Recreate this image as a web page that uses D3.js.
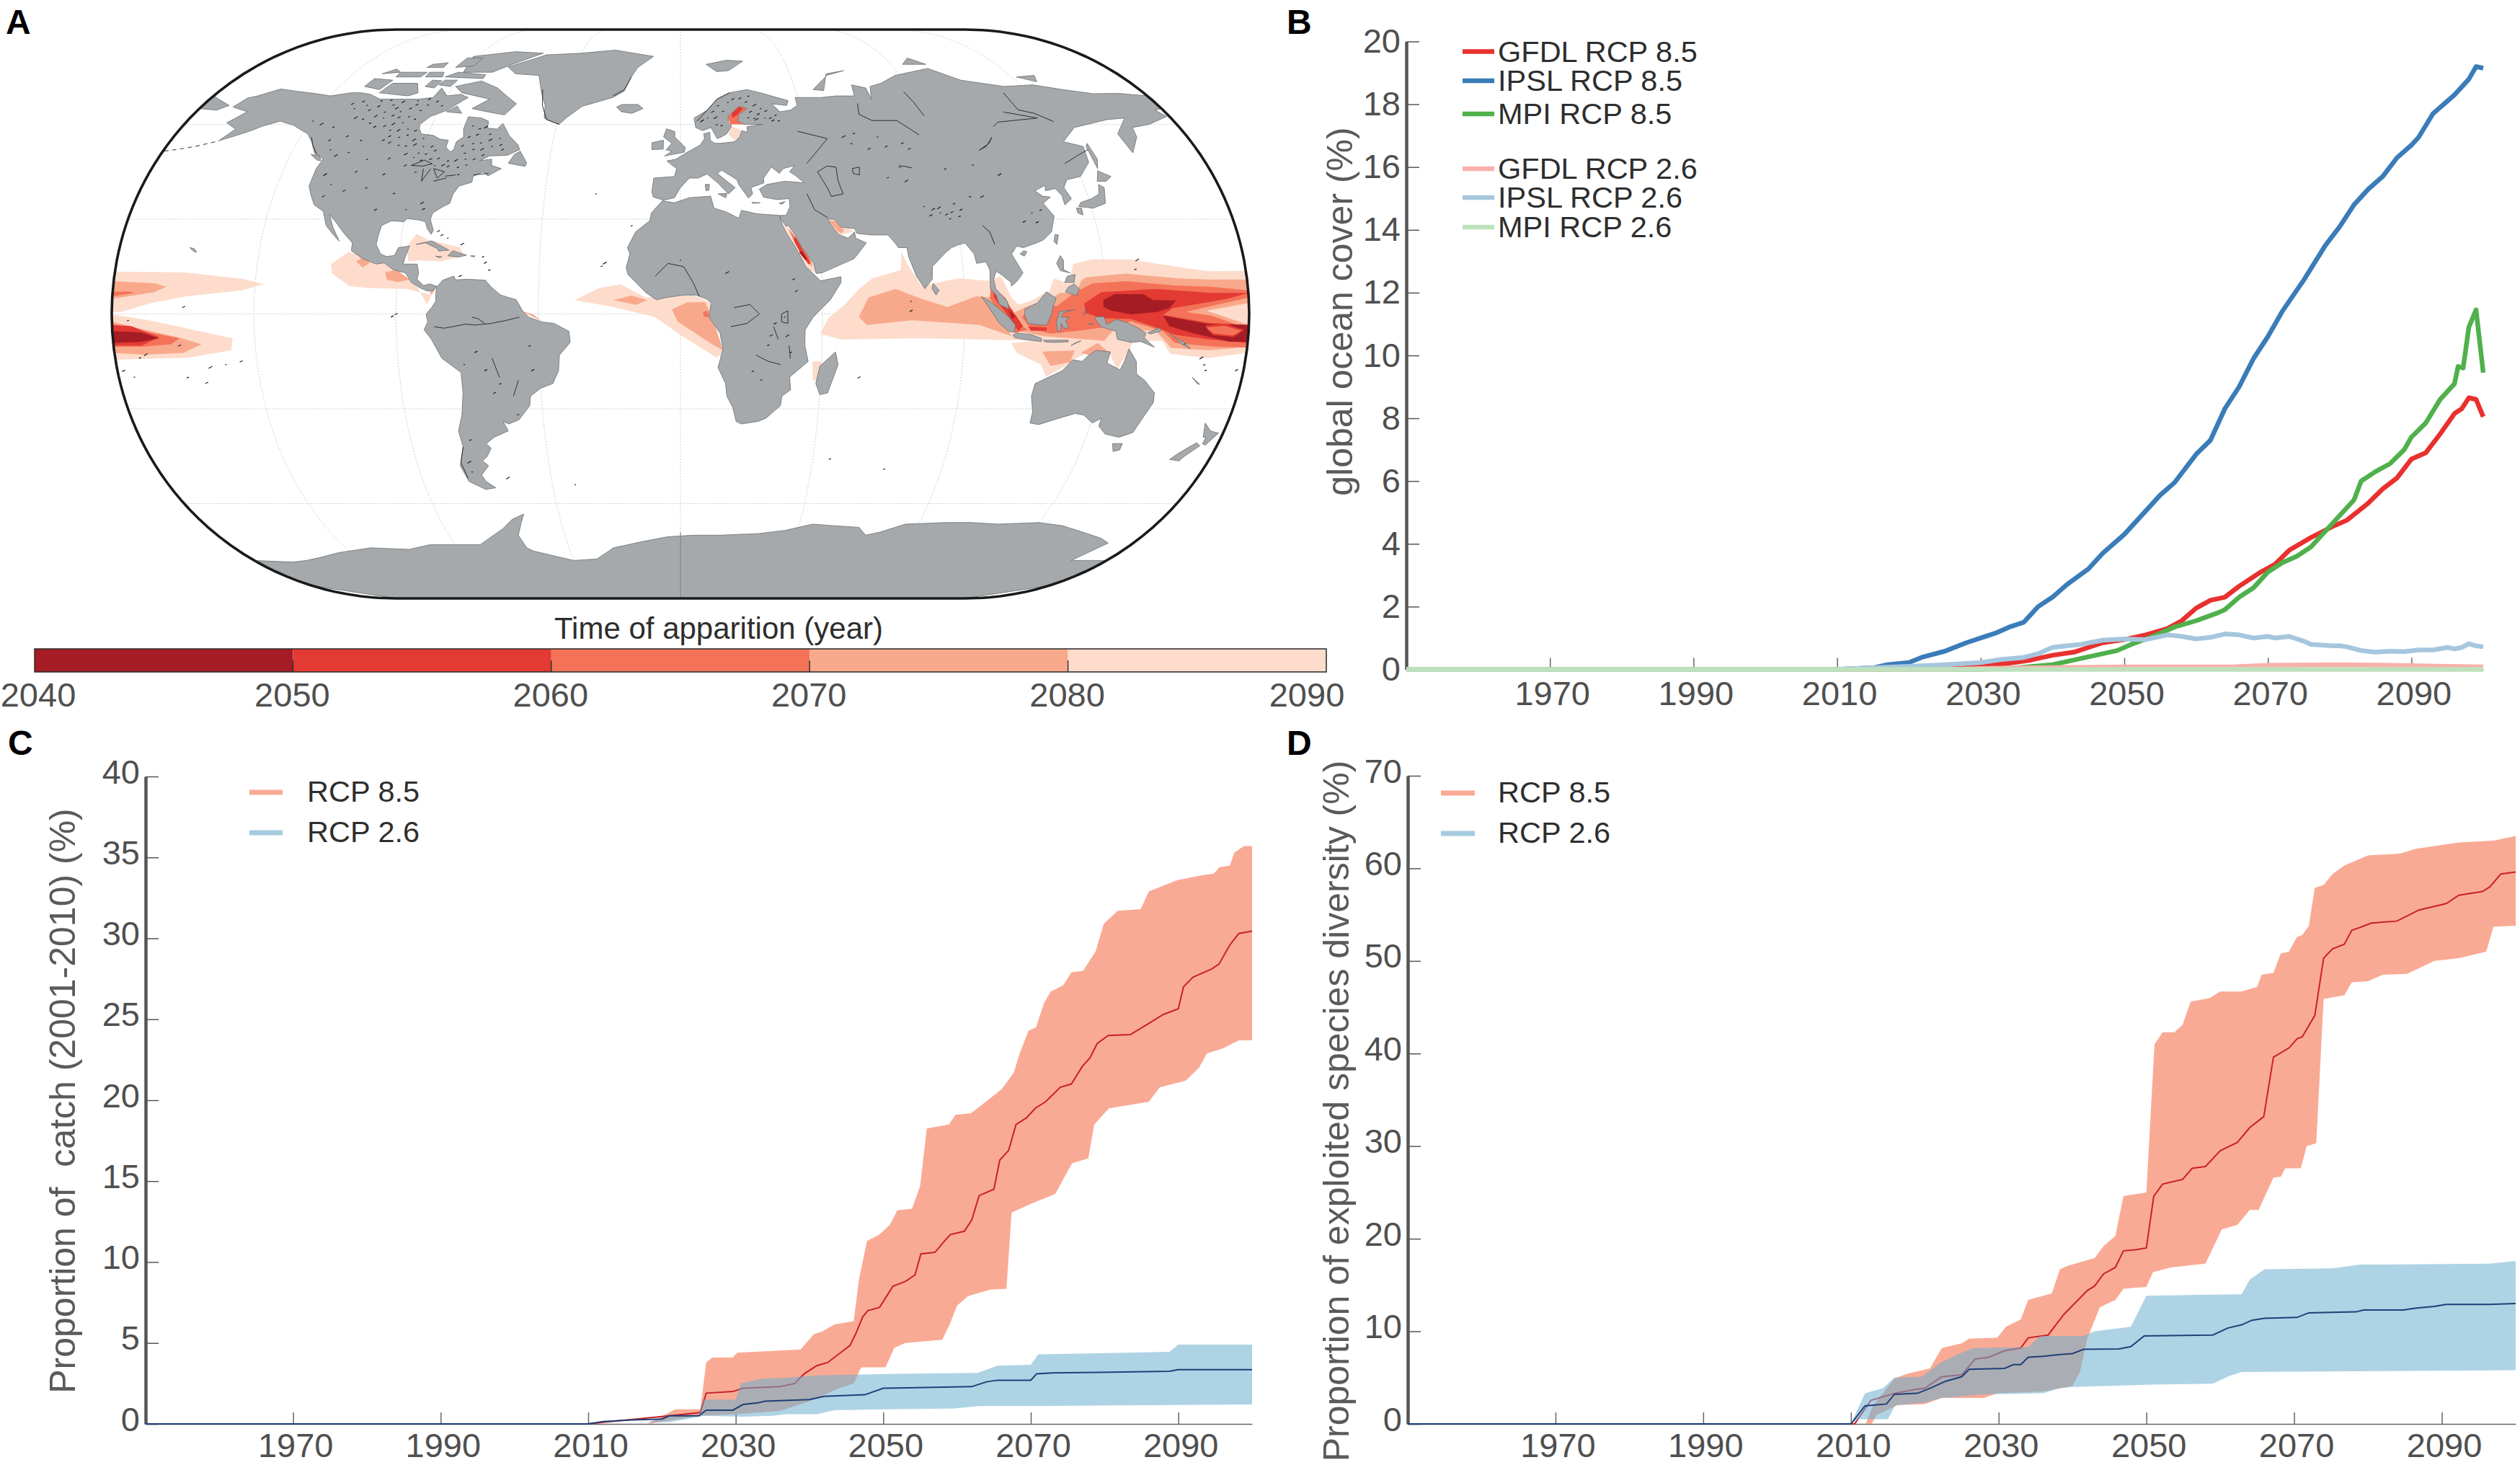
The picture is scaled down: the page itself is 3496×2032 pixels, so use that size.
<!DOCTYPE html>
<html lang="en">
<head>
<meta charset="UTF-8">
<title>Time of apparition</title>
<script src="https://d3js.org/d3.v7.min.js"></script>
<style>
  html, body { margin: 0; padding: 0; background: #fff; }
  svg { display: block; }
  text { font-family: "Liberation Sans", Arial, sans-serif; white-space: pre; }
</style>
</head>
<body>
<div id="chart"></div>
<script>
// ---------- panel A: land, lon/lat ----------
const northAmerica = [[-168,65.5],[-166,68.3],[-163,69],[-157,71.2],[-150,70.5],[-141,69.7],[-135,69],[-128,70],[-124,70],[-120,69.5],[-115,68],[-108,68],[-100,68],[-95,68.5],[-94,71.5],[-90,69],[-85,69.5],[-81.5,68.5],[-85,66],[-87,64.5],[-92,62.5],[-94.5,60],[-94,58.7],[-92.5,57],[-88,56.5],[-85,55.3],[-82,55],[-82,52.8],[-80,51.3],[-79,52],[-79,54.5],[-77,56],[-78,58.5],[-78,62.4],[-73,62],[-70,61],[-69.5,58.8],[-66,58.5],[-64.5,60.3],[-61,56.5],[-57,53.5],[-56,52],[-60,50.2],[-66,50],[-69,48.5],[-65,49],[-64.5,47],[-61,46],[-65,43.7],[-67,45],[-70,43.5],[-70,41.7],[-74,40.5],[-75.5,38],[-76,35],[-78,34],[-81,32],[-81.5,30],[-80,26.5],[-80.5,25.2],[-82,27],[-83,29.2],[-85,29.7],[-89,30.2],[-90,29.2],[-94,29.5],[-97,28],[-97.5,25],[-97.8,22],[-96,19],[-94,18.2],[-91.5,18.5],[-90.5,21],[-87,21.5],[-88,18],[-88.5,15.8],[-84,15.8],[-83.3,13],[-83.7,11],[-81.5,9],[-79.5,9.5],[-77.3,8.7],[-78.2,7.5],[-80.3,7.3],[-82.5,8.2],[-85.5,10],[-87.5,13],[-91.5,14],[-94.5,16.2],[-97,15.8],[-101.5,17.5],[-105.5,20],[-105.5,22.5],[-109,25.8],[-112.5,29.5],[-114.7,31.5],[-112.7,27.5],[-109.8,23],[-112,25],[-115,28],[-117,32.5],[-120.5,34.5],[-122.5,37.5],[-124.2,40.5],[-124,46],[-123,49],[-127,51],[-130,54.5],[-133,57],[-137,58.5],[-140,59.7],[-146,61],[-151,59.5],[-154,58],[-158,56.5],[-163,54.8],[-160,58.5],[-165,60.5],[-161,64]];
const southAmerica = [[-77.3,8.5],[-75.5,10.7],[-72,12],[-71.5,10.8],[-68,11],[-62,10.7],[-60,8.5],[-57,6],[-52,4.5],[-50,1],[-48,-1],[-44,-2.5],[-40,-3],[-35.3,-5.5],[-35,-9],[-38.5,-13],[-39,-18],[-41,-22],[-45,-23.5],[-48.5,-26],[-49,-29],[-53,-33.5],[-56.5,-34.8],[-58.3,-34],[-57,-37],[-62,-39],[-65,-41],[-63.7,-42.5],[-65.5,-45],[-67.5,-46.5],[-65.8,-48],[-69,-51],[-68,-53],[-65.2,-55],[-69,-55.5],[-74,-53],[-75.5,-48],[-73,-42],[-73.5,-37],[-71.5,-32],[-70.2,-25],[-70.2,-18.5],[-76,-14],[-79,-8],[-81.2,-5],[-80,-2.5],[-80.5,0],[-78.8,2],[-77.5,4],[-77.5,7]];
const africa = [[-6,35.8],[-2,35.2],[3,36.8],[10,37.3],[11,33.5],[15,32.3],[19,30.3],[20,32.8],[25,31.7],[32.3,31.2],[32.6,29.7],[34,26],[37,21],[38.5,18],[40,15],[43,12],[44.5,10.5],[51,11.8],[51,10],[47.5,4.5],[42,-1],[39.5,-5],[39.5,-10],[40.7,-15],[35,-20],[35.5,-24],[32.8,-26],[32.5,-29],[28,-33],[25.5,-34],[20,-34.8],[18.3,-34],[17,-29.5],[15,-26],[14.5,-22],[12,-17],[13.5,-11],[12.5,-6],[9,-1],[9.7,3.5],[8.5,4.6],[5,6],[1,6],[-4.5,5.2],[-7.7,4.5],[-11,6.8],[-13.2,9],[-16.7,12.5],[-17.3,14.7],[-16.2,19],[-17,21],[-14.5,26],[-10,29.5],[-9.5,32]];
const eurasia = [[-9,37],[-9.5,38.7],[-9,43],[-2,43.5],[-1.3,46],[-4.7,48.4],[-1.5,49],[2,51],[4,52],[7,53.5],[8.5,55.5],[8.3,57],[10.5,57.5],[10.5,55],[12,54],[14,54],[19,54.5],[21,56],[22,58],[24,57.5],[24,59.3],[30,60],[23,60],[21,61],[21.5,63],[25,65],[22,65.8],[17.5,62.5],[17.5,60.5],[18.5,59.5],[16.5,57],[14.5,56],[13,55.5],[11,59],[8,58],[5.5,59],[5,62],[10,64.5],[14,68],[19,70],[26,71],[31,70],[41,67.5],[40,66],[34.5,66.5],[37,64],[41,64.5],[44,66],[44,68.5],[54,68.5],[60,69],[67,69],[68,72.5],[73,71.5],[73,68],[75,72],[80,73],[88,75.5],[104,77.7],[113,74],[128,72],[140,72.5],[150,71],[160,69.7],[170,69.8],[180,69],[180,65],[177,64.5],[179,62.5],[170,60],[163,59],[162,56],[157,51],[156,57],[163,62],[156,61.5],[142,59],[135,54.5],[141,53],[140,48],[135,43.5],[130,42.5],[128,40],[129.3,36.5],[126.5,34.5],[126.5,37.5],[125,39.7],[121.5,39],[122,40.7],[118,39],[120,37.3],[122.5,37],[119.5,35],[122,31],[120,26],[117,23.5],[114,22.3],[110,21],[108,21.5],[106,19],[109,13],[107,10.5],[105,8.8],[105,10],[102,12.5],[100.5,13.5],[99.5,11],[100,8],[103.5,4],[104,1.5],[101,3],[100,6],[98.3,8],[98.5,14],[97.5,16.5],[94.5,16],[94,19],[91.5,22.5],[89,21.8],[87,21],[85,19.5],[80.3,15],[80,11],[77.5,8],[75,12],[73,18],[72.7,21],[70,21],[69,22.5],[67,25],[61.5,25],[57,25.5],[56.5,27],[52,27.5],[50,30],[48,30],[50,26.5],[51.5,25],[54,24],[56.3,26],[56.5,24],[59.8,22.5],[55.5,17.5],[52,16],[45,13],[43.2,12.8],[42.5,16],[39,21],[37,25],[35,28],[34.2,27.8],[32.7,29.9],[32.5,31.2],[34.5,31.2],[36,34],[36,36.5],[32,36.2],[30,36.5],[27.5,37],[26.3,39.5],[29,41],[35,42],[41.5,41.5],[39,43.7],[37,45],[39,47],[35,46],[33.5,44.5],[31,46.5],[28,43],[28,41.5],[26,40.8],[23.5,40],[24,38],[22.5,36.7],[19.5,41],[19,42.5],[14,45.5],[12.5,44.5],[16,41.7],[18.3,40],[16,38],[12.5,41.5],[9,44.3],[6,43],[3,43],[0,40],[-2,36.8],[-5.5,36]];
const australia = [[114,-22],[113.5,-26],[115,-31],[115,-34.5],[118,-35],[124,-33],[129,-31.5],[132,-32],[135.5,-34.5],[138,-33],[138,-35.5],[141,-38],[146,-39],[150,-37.5],[151.5,-33],[153.5,-28],[153,-25],[149,-21],[146,-19],[145.3,-15],[142.5,-11],[141.5,-15],[140.5,-17.7],[136,-15.5],[136.7,-12],[132,-11.5],[130,-13],[128,-15],[125,-14.5],[122,-18],[117,-20.5]];
const antarctica = [[-180,-78],[-165,-78.5],[-158,-78],[-150,-77],[-140,-75.5],[-125,-74],[-110,-74.5],[-100,-73],[-90,-73],[-80,-73],[-75,-71],[-68,-68],[-63,-65],[-58,-63.3],[-60,-66],[-63,-70],[-62,-74],[-60,-75],[-45,-78],[-35,-77.5],[-27,-74],[-15,-72],[-5,-70.5],[5,-70],[15,-70],[30,-69.5],[40,-68.5],[50,-66.5],[58,-67],[68,-67.5],[72,-70],[77,-69],[85,-66.5],[100,-66],[110,-66],[120,-66.5],[135,-66],[145,-67],[155,-69],[165,-71],[170,-72.5],[165,-78],[180,-78],[180,-82],[180,-86],[180,-90],[-180,-90],[-180,-86],[-180,-82]];
const islands = [
  [[-73,78.2],[-68,76],[-58,75.5],[-54,70],[-51,66],[-50,62],[-44,60],[-42,62],[-37,65.7],[-26,68.5],[-22,70.5],[-20,75],[-18,78],[-12,81.5],[-30,83.5],[-45,82.5],[-60,82],[-65,80.5]],
  [[-80,73.7],[-72,71.5],[-67,69],[-62,66.5],[-65,63],[-72,64],[-78,65],[-73,68],[-85,70],[-89,72]],
  [[-117,70],[-105,69],[-102,70],[-105,73],[-115,73]],
  [[-125,72],[-118,71],[-116,74],[-124,74.5]],
  [[-90,76.5],[-78,76.5],[-72,79],[-62,82.5],[-75,83],[-92,81.5]],
  [[-96,75],[-80,74.5],[-80,75.7],[-92,76.5]],
  [[-116,75],[-106,75],[-105,76.5],[-116,76.5]],
  [[-87,64],[-81,63.5],[-84,65.8]],
  [[-101,72],[-97,71.5],[-96,73.8],[-100,74]],
  [[-96,72.5],[-91,72],[-90,74],[-95,74]],
  [[-104,75],[-97,75],[-98,76.5],[-104,76.5]],
  [[-123,76],[-116,76.5],[-119,77.5]],
  [[-107,78],[-100,78],[-100,79.5],[-106,79]],
  [[-95,78],[-88,78.5],[-87,81],[-94,81]],
  [[-59,47.7],[-53,46.7],[-52.7,47.8],[-55.7,51.5],[-57.5,50.5]],
  [[-128,50.5],[-125,48.7],[-123.5,48.5],[-125,50.2]],
  [[-85,22],[-80,23.1],[-74.2,20.2],[-77.5,19.9],[-78,20.7],[-82,22.5]],
  [[-74.4,18.4],[-73,20],[-68.4,18.6],[-71,18]],
  [[-78.3,18.3],[-76.3,18.1],[-77,17.8]],
  [[-67.2,18.4],[-65.7,18.4],[-66,18]],
  [[-24,65.5],[-22,64],[-18,63.5],[-14,65],[-16,66.3],[-22,66.3]],
  [[-5.5,50],[1.3,51.2],[1.7,52.7],[-2,56],[-2,57.7],[-5,58.6],[-6,56],[-3,54],[-5,52],[-3,51.4]],
  [[-10,52],[-6,52.2],[-6,55],[-10,54.2]],
  [[8.3,41],[9.7,41],[9.5,39.2],[8.5,39]],
  [[12.5,38],[15.5,38.2],[15,36.8]],
  [[23.5,35.3],[26.3,35.2],[24,35]],
  [[32.5,35],[34.5,35.6],[33.5,34.7]],
  [[11,79],[20,80.3],[27,80],[20,77],[15,76.7]],
  [[52,71],[56,70.7],[60,76],[68,77],[60,75.5]],
  [[95,79],[105,79],[100,81]],
  [[137,75],[145,75.5],[143,73.5]],
  [[142,46],[143.5,49],[143,54],[142,53]],
  [[130.9,34],[135.5,33.5],[140,35],[141.5,40],[140,41],[139,38],[136,36.5],[132,35.3]],
  [[140,42],[143,42],[145.3,43.5],[141.7,45.3]],
  [[130,32],[131.5,31.3],[131.7,33.5],[130,33.5]],
  [[120.2,23],[121,22],[122,25],[121,25.2]],
  [[108.7,19],[110,18.3],[111,19.7],[110,20]],
  [[79.8,8],[81,6],[82,7.5],[80.2,9.7]],
  [[120,16],[121.5,18.5],[122.3,17],[122,14],[124,13],[121,13.7]],
  [[122,7],[125.5,5.8],[126.5,8],[125,9.5],[123,8.5]],
  [[122,10],[125,10],[125.5,12.5],[123,12]],
  [[109,1.5],[111,2.5],[113,3.5],[116,7],[119,5],[118,2.5],[117.5,0],[116,-3.5],[114,-3.5],[110,-3],[109,-0.5]],
  [[95.3,5.5],[98,4],[100.5,2],[104,-1],[106,-3.5],[105.8,-5.8],[104,-5.5],[101,-3],[99,0],[97,3]],
  [[105.3,-6.8],[106.5,-6],[111,-6.5],[114.5,-7.7],[114.5,-8.7],[110,-8.2],[106,-7.5]],
  [[119.5,-5.5],[119,-2.5],[120,0.8],[124,1.2],[125,1.5],[121,0.3],[120.5,-1],[123,-1],[122,-2],[123,-4.5],[121.5,-4.5],[120.5,-3],[120.5,-5.5]],
  [[131,-1],[134,-0.8],[135,-3.3],[138,-1.7],[141,-2.6],[145,-4.5],[147.5,-6],[147,-7.5],[150.5,-10.5],[146,-8.7],[143,-9],[138.5,-8],[138,-5.5],[133,-4],[132,-2.5]],
  [[148,-6],[152,-4.3],[152,-5.5],[149,-6.3]],
  [[115,-8.3],[119,-8.3],[123,-8.3],[123,-8.8],[119,-9],[116,-8.9]],
  [[124,-10],[127,-8.5],[125,-9.3]],
  [[127.5,-0.5],[128.5,2],[128,0]],
  [[129,-3],[130.8,-3.2],[129.5,-3.4]],
  [[155,-6],[157,-7.5],[160,-9],[162,-11],[159,-9.5]],
  [[144.7,-41],[148,-41],[148,-43],[146,-43.5]],
  [[172.7,-34.5],[175.5,-37],[178.5,-37.7],[176,-41.5],[174.8,-41],[175,-39],[174,-39]],
  [[172.7,-40.7],[174.3,-41.7],[171,-45],[170,-46.5],[166.5,-46],[168.5,-44]],
  [[49.3,-12],[50.3,-16],[47.5,-25],[45,-25.5],[43.5,-22],[44.5,-16.5]],
  [[164,-20],[167,-22.3],[166,-22]],
  [[-180,69],[-175,67.5],[-170,66],[-173,64.5],[-180,65]],
  [[-157.5,21],[-155.5,19.5],[-155,19.7],[-156,20.7]]
];
const landShapes = [northAmerica, southAmerica, africa, eurasia, australia, antarctica, ...islands];

// lakes, rivers and fjord coasts, thin dark strokes
const waterLines = [
  [[46.5,45],[50,46.8],[53,46.5],[53,42],[54,38],[50,37.2],[49,40],[47.5,43],[46.5,45]],
  [[58.5,46],[61,46.5],[60.5,44],[58.5,44.5],[58.5,46]],
  [[104,51.8],[107,53],[110.5,55.9],[108.5,54],[104,51.8]],
  [[74.4,46.4],[76,46.8],[79,46.2]],
  [[-92,47],[-88,48.7],[-85,47.5],[-88,46.8],[-92,47]],[[-87.5,46],[-87,42],[-86,44],[-85,46]],[[-84,46],[-80,45],[-82,43],[-84,46]],[[-83,42],[-79,43],[-79,42.8]],[[-79.5,43.6],[-76,44]],
  [[-131,56],[-129,53.5],[-126,50.5]],[[-70,44],[-65,44.5]],
  [[-54,71],[-52,66],[-49,61.5],[-44,60]],[[-26,69],[-22,71],[-20,75]],[[6,61],[10,64.5],[14,68],[19,70]],[[-74,-52],[-75,-47],[-73,-42]],
  [[-78,-4],[-75,-4.5],[-72,-4],[-68,-3.2],[-65,-3.5],[-60,-3],[-55,-2],[-51,-1]],[[-66,-1],[-64,-1.5],[-62,-3]],[[-60,-14],[-58,-20]],[[-52,-21],[-54,-26]],
  [[-8,12],[-4,16],[1,15],[4,10],[6,5.5]],[[17,2],[22,3],[25,0],[21,-3],[16,-4]],[[24,-13],[28,-15],[32,-16]],[[32,0],[34,1],[34,-3],[32,-2.5],[32,0]],[[29.5,-4],[31,-8]],[[34.5,-10],[35,-14]],
  [[87,70.3],[88.5,67],[89.8,62.7]],[[125.5,70],[126,64.6],[131,63.5],[136,60.9]],[[120,63.9],[131,62],[115.5,60.7],[113,59.3]],[[67,66.6],[66,63.2],[70,61.2],[79,61.2],[85,56.7]],[[42,57.8],[52,55.5],[46.5,50.6],[43.2,47.6]],[[131.6,47.6],[137,50],[142,52]],[[98,28],[100,26],[101,22]],[[42,38],[44,33],[48,30.5]]
];
const aleutians = [[-164,54.5],[-170,53],[-176,52],[-180,51.5]];

// tiny lakes and ocean islets, one short dash each
const lakeDashes = [[-118,66],[-116,64.5],[-113,65.5],[-110,64],[-108,66],[-106,65],[-104,64],[-101,65],[-99,66],[-97,64.5],[-95,66],[-112,62.5],[-109,62],[-106,62.8],[-103,62],[-100,62.5],[-97,61.5],[-104,60],[-101,60.5],[-107,59.5],[-110,59],[-113,60.5],[-116,61.5],[-119,62],[-122,65],[-124,66.5],[-120,67],[-114,67.5],[-110,67.5],[-105,67],[-100,67.5],[-96,68],[-92,67],[-90,66],[-104,58],[-101,58],[-98,58.5],[-95,58],[-103,56],[-100,56],[-97,56.5],[-94,55],[-91,55.5],[-105,55],[-102,54],[-99,53.5],[-96,53],[-93,53.5],[-90,53],[-87,53],[-85,51.5],[-91,51],[-88,50.5],[-95,50.5],[-92,49.5],[-86,49],[-83,49],[-80,48.5],[-89,48.5],[-77,48.5],[-74,49],[-71,49],[-68,50],[-75,51],[-72,52],[-69,52],[-66,53],[-63,53.5],[-76,53],[-73,54],[-70,54],[-67,55],[-64,55.5],[-75,56],[-72,56.5],[-68,57],[-72,58.5],[-70,59],[-75,59.5],[-62,52],[-79,46.5],[-76,46.5],[-73,47],[-81,47],[-84,47],[-94,47],[-100,49],[-108,49],[-115,51],[-119,50],[-122,52],[-124,55],[-118,56],[-113,55],[-125,59],[-130,60],[-134,61],[-110,45],[-100,44],[-90,45],[-75,44],[-120,44],[-117,41],[-112,39],[-118,37],[-105,40],[-95,38],[-85,35],[-90,33],[-100,33],[-84,33],
  [14,66],[16,64],[13,62],[18,67],[20,68],[23,68],[26,69],[25,67],[28,66],[30,65],[26,64],[29,63],[27,62],[25,62],[28,61.5],[31,62],[33,62],[34,61],[13,60],[15,59.5],[8,61],[10,62],[12,64],[32,64],[35,63],[36,61],
  [83,33],[85,32],[87,31.5],[89,32],[91,31],[88,30],[85,33.5],[80,34],[92,33],[82,31],[90,35],[96,37],[100,37],[75,47],[72,53],[66,52],[60,54],[62,57],[58,56],[70,56],[78,54],[80,52],[90,46],[100,47],[108,44],[115,32],[116,29],[112,29],[118,33],[70,43],[76,42],
  [33,-1],[30,-3],[29,-7],[35,-12],[28,-10],[15,13],[0,17],[36,11],[37,7],[23,-18],[26,-21],[34,-7],
  [-69,-16],[-65,-12],[-62,-18],[-58,-22],[-70,-40],[-72,-47],[-72,-50],[-60,-25],[-47,-18],[-48,-10],[-53,-32],
  [-150,-17],[-145,-16],[-140,-15],[-152,-22],[-158,-20],[-172,-14],[-170,-13],[-175,-20],[-178,-18],[178,-18],[167,-16],[168,-18],[166,-14],[160,-9.5],[-159,-10],[-157,2],[-175,-2],[145,14],[146,17],[73,4],[73,1],[57.5,-20.3],[-16,28],[-25,15],[-24,16],[-28,38],[-90,0],[-91,-1],[70,-49],[51,-46],[-60,-52],[-37,-54],[-70,12],[-62,16],[-61,14],[-63,18],[-70,22],[-75,24],[-77,25],[-78,26]];

// ---------- panel A: apparition zones, oldest last so it lands on top ----------
const zoneLight = [
  [[44.3,-6.2],[46.8,-1.3],[51.9,2.9],[57,8.2],[61,11.3],[70.2,13.9],[70.8,19.6],[72.3,15.8],[76.4,9],[80.4,9.7],[88.6,11.3],[97.8,10.5],[101.8,12],[104.9,5.2],[107,2.9],[110.5,4],[117.1,7.5],[118.6,11.3],[123.2,9.7],[125.3,15.8],[131.4,17.3],[143.6,17.3],[157.9,15],[168.1,13.5],[180,13.7],[180,7],[180,0],[180,-6],[180,-12.3],[168,-14],[155.8,-12.6],[152.8,-8.5],[143.6,-8.5],[142.6,-11.5],[139.5,-17.6],[136.5,-12.3],[131.4,-11.1],[125.3,-14.5],[122.2,-16.8],[117.1,-19.9],[115,-16],[107,-12.3],[104.9,-9.2],[113,-8.5],[96.7,-8.1],[76.4,-7.7],[50.9,-8.1]],
  [[-180,13.4],[-158,13.2],[-139.1,11.1],[-132.2,9.4],[-139.1,7.5],[-156.6,5.6],[-168.2,3.3],[-177,0.6],[-180,0.6],[-180,7]],
  [[-180,-0.1],[-168.2,-2],[-142,-7.7],[-142.8,-11.5],[-156.6,-13.8],[-180,-14.5],[-180,-7]],
  [[-111.5,15.8],[-106.4,19.6],[-92.6,15.8],[-83.8,9],[-80.2,2.9],[-78.8,6],[-86.8,7.9],[-98.4,8.2],[-105,8.8],[-110.8,12.8]],
  [[-85.3,25.3],[-80.9,23.4],[-70.8,21.1],[-69.3,18.5],[-76.6,16.6],[-83.1,17],[-86.8,16.6],[-88,21.1]],
  [[-33.6,4.4],[-25.7,8.2],[-19,9.4],[-11,5.2],[-3.8,5.6],[3.6,6.3],[9.3,3.7],[13.6,-12.3],[11.5,-13.8],[0.6,-7],[-8.2,-0.9],[-21.3,2.2]],
  [[42,-15],[45,-15],[44.5,-21],[42.5,-21]],
  [[34,28.5],[33.5,27],[37,21],[38.5,18],[41,14],[43.3,12.8],[42.5,16],[39.5,21],[37,25]],
  [[17,57],[19,55],[21,56],[22,58],[18.5,59.5]],
  [[48,30],[50,26.5],[52,25],[56,26.2],[54,27.5],[50,30]]
];
const zoneMid = [
  [[56.5,-0.9],[59.5,5.2],[68.2,7.9],[76.4,4.8],[84.5,2.2],[93.7,5.6],[99.3,5.2],[101.8,-1.6],[104.9,-7],[94.7,-3.5],[73.3,-2],[59,-3.5]],
  [[128.8,11.6],[141.6,12.8],[157.9,11.3],[168,10.9],[180,10.9],[180,3.5],[166.5,1],[180,-3.5],[180,-10.4],[168,-11.5],[155.8,-10.7],[150.7,-5.4],[137.5,-4.7],[134.4,-8.5],[115,-7],[107,-5.4],[105.9,0.6],[110,2.5],[118.1,5.2],[120.2,6.7],[125.3,6.7],[127.3,10.5]],
  [[115,-11.9],[125.3,-11.5],[124.3,-15.3],[118.1,-16.4]],
  [[127.3,-12.3],[132.4,-9.2],[136.5,-12.3],[133.4,-13.8]],
  [[-180,10.4],[-166.8,9.7],[-163.1,8.6],[-166.8,6.9],[-180,4.8]],
  [[-180,-2.4],[-172.6,-4.3],[-158,-7.7],[-152,-9.6],[-158,-12.3],[-171,-12.9],[-180,-12.3]],
  [[-103.5,16.6],[-101.3,18.1],[-99.1,16.2],[-101.3,14.7]],
  [[-94,13.2],[-90.4,13.9],[-86,10.9],[-89.7,10.1],[-93.3,10.9]],
  [[-80.2,8.2],[-77.3,9],[-78.8,6]],
  [[-21.3,4.4],[-15.5,5.8],[-10.4,4.4],[-14,2.9]],
  [[-2.7,1.4],[2,3.7],[7.8,3.7],[9.3,0.6],[13.6,-11.5],[10,-9.6],[-0.9,-2.4]],
  [[-50.4,1],[-43.8,-2.4],[-46.7,-0.1]],
  [[48.5,29.5],[50.5,26.5],[52,25.5],[53,26.5],[50,29.5]]
];
const zoneOrange = [
  [[119.2,2.5],[125.3,7.1],[130.9,9.7],[141.6,10.4],[156.9,9],[168.6,8.6],[180,7.5],[180,5.2],[168,2.5],[160,0.6],[168,-0.5],[180,-4.7],[180,-10.6],[170,-10.4],[156.9,-9.2],[152.8,-5.4],[142.6,-2.4],[133.4,-4.3],[125.3,-5.4],[117.1,-6.2],[111,-4.7],[108,-0.9],[113,2.9]],
  [[-180,7.1],[-174,7.1],[-173.3,6.6],[-180,5.6]],
  [[-180,-3.2],[-168.2,-5.8],[-158.8,-7.7],[-161.7,-9.6],[-171,-10.4],[-180,-10.4]],
  [[18,60],[23,60],[21,61],[21.5,63],[25,65],[22,65.8],[17.5,62.5]],
  [[7.1,0.6],[8.5,1],[9,-0.9],[7.5,-0.9]],
  [[35,27],[37,22],[39.5,18],[42,15],[41.5,17],[39,21.5],[36.5,25]],
  [[98.5,9],[103,5],[107,-3],[110,-5],[106,-6],[102,-1],[98,5]]
];
const zoneRed = [
  [[127.8,3.3],[133.4,6.9],[150.7,7.9],[168,6.7],[180,6.7],[173.2,4.8],[155.8,1.8],[152.8,-0.3],[167,-2.8],[180,-3.5],[180,-9.2],[168,-8.1],[156.9,-6.6],[151.8,-4.7],[142.6,-1.6],[133.4,-1.3],[128.3,0.3]],
  [[-180,-3.5],[-174,-3.8],[-165.3,-7.3],[-171,-10],[-180,-10]],
  [[99.3,8.2],[100.8,6],[104.9,1.4],[108.5,-3.9],[107,-5.4],[102.9,0.6],[99.3,5.2]],
  [[19,62],[21,63],[23.5,65],[22,65.5],[19,63.5]],
  [[36.5,23.5],[38.5,19],[41,15.5],[41.3,16.5],[39,20.5],[37,24.5]],
  [[110,-4],[116,-4.3],[116,-5.3],[111,-5.3]]
];
const zoneDark = [
  [[133.9,4.4],[137.5,6.3],[146.7,6.3],[149.7,4.4],[156.9,4.3],[154.8,1.8],[150.7,0.6],[146.7,0.3],[142.6,-0.1],[136.5,1],[133.9,2.2]],
  [[152.8,-0.5],[167,-3.2],[180,-3.5],[180,-8.8],[174.2,-8.8],[163,-6.2],[154.8,-3.9]],
  [[-180,-5.4],[-171,-5.8],[-165.3,-7.7],[-171,-8.8],[-180,-9.2]],
  [[103.9,1.4],[105.9,-0.9],[105,-1.5]],
  [[38,19.5],[39.8,17.2],[40.5,17.2],[39,19.8]]
];
// the small core inside the dark Pacific tongue
const coreRing = [[[166,-3.7],[172.2,-3],[178.5,-5],[175.5,-7.3],[168.6,-6.7]]];
const coreInner = [[[166.5,-4.3],[172.2,-3.7],[177.7,-5.3],[175.2,-6.8],[169.1,-6.2]]];

const barYears = [2040, 2050, 2060, 2070, 2080, 2090];
const barColors = ["#a51c24", "#e33a33", "#f47358", "#f9a98b", "#fddccc"];

// ---------- panel B ----------
const yearTicks = [1970, 1990, 2010, 2030, 2050, 2070, 2090];
const coverTicks = d3.range(0, 21, 2);
const ipsl85 = [[1950,0],[2010,0],[2015,.05],[2017,.15],[2020,.22],[2022,.4],[2025,.58],[2028,.85],[2030,1],[2032,1.15],[2034,1.35],[2036,1.5],[2038,2],[2040,2.3],[2042,2.7],[2045,3.2],[2047,3.7],[2050,4.3],[2052,4.8],[2055,5.55],[2057,5.95],[2060,6.85],[2062,7.3],[2064,8.3],[2066,9],[2068,9.9],[2070,10.6],[2072,11.4],[2075,12.4],[2078,13.5],[2080,14.1],[2082,14.8],[2084,15.3],[2086,15.7],[2088,16.3],[2090,16.7],[2091,16.95],[2093,17.7],[2095,18.1],[2096,18.3],[2098,18.8],[2099,19.2],[2100,19.15]];
const gfdl85 = [[1950,0],[2025,0],[2030,.1],[2034,.2],[2037,.3],[2040,.45],[2043,.55],[2045,.7],[2047,.85],[2050,.95],[2053,1.1],[2056,1.3],[2058,1.55],[2060,1.95],[2062,2.2],[2064,2.3],[2066,2.65],[2069,3.1],[2071,3.35],[2073,3.8],[2076,4.2],[2079,4.55],[2081,4.75],[2084,5.3],[2086,5.75],[2088,6.1],[2090,6.7],[2092,6.9],[2094,7.5],[2096,8.15],[2097,8.3],[2098,8.65],[2099,8.6],[2100,8.05]];
const mpi85 = [[1950,0],[2030,0],[2035,.05],[2040,.15],[2043,.3],[2046,.45],[2049,.6],[2051,.8],[2054,1.05],[2057,1.35],[2060,1.55],[2063,1.8],[2064,1.9],[2066,2.3],[2068,2.6],[2070,3.1],[2072,3.4],[2074,3.6],[2076,3.9],[2078,4.4],[2080,4.9],[2082,5.4],[2083,6],[2085,6.3],[2087,6.55],[2089,7],[2090,7.4],[2092,7.85],[2094,8.6],[2096,9.1],[2096.5,9.65],[2097.2,9.6],[2098,10.9],[2099,11.45],[2100,9.45]];
const gfdl26 = [[1950,0],[2025,0],[2030,.03],[2040,.06],[2050,.08],[2065,.08],[2070,.13],[2080,.15],[2085,.14],[2095,.1],[2100,.08]];
const ipsl26 = [[1950,0],[2010,0],[2015,.05],[2020,.1],[2025,.15],[2030,.22],[2033,.32],[2036,.38],[2038,.5],[2040,.7],[2042,.75],[2044,.8],[2047,.93],[2050,.97],[2053,.95],[2056,1.1],[2058,1.05],[2060,.97],[2062,1.02],[2064,1.13],[2066,1.1],[2068,1],[2070,1.05],[2071,1],[2073,1.05],[2075,.9],[2076,.8],[2079,.75],[2080,.75],[2081,.72],[2083,.6],[2085,.55],[2087,.58],[2089,.57],[2091,.62],[2093,.62],[2095,.7],[2096,.65],[2097,.7],[2098,.82],[2099,.75],[2100,.72]];
const mpi26 = [[1950,0],[2100,0]];
const coverNames = ["GFDL RCP 8.5", "IPSL RCP 8.5", "MPI RCP 8.5", "GFDL RCP 2.6", "IPSL RCP 2.6", "MPI RCP 2.6"];
const coverSeries = [gfdl85, ipsl85, mpi85, gfdl26, ipsl26, mpi26];
const coverColors = ["#e8302e", "#3a7cb8", "#4fb04c", "#f9b0ab", "#a6c6de", "#bfe0bc"];

// ---------- panel C ----------
const catchTicks = d3.range(0, 41, 5);
const catchUp85 = [[2018,0],[2021.8,.9],[2025.2,.9],[2026,3.8],[2026.8,4.1],[2029.6,4.1],[2030.2,4.4],[2038.8,4.6],[2040.6,5.55],[2041.7,5.7],[2043.4,6.15],[2046,6.35],[2046.7,8.9],[2047.8,11.3],[2049.5,11.7],[2050.9,12.3],[2051.9,13.2],[2053.9,13.3],[2055,14.7],[2055.9,18.25],[2058.9,18.5],[2059.8,19.1],[2061.9,19.2],[2063.9,19.9],[2066.1,20.7],[2067.7,21.7],[2068.5,22.9],[2069.7,24.3],[2070.7,24.5],[2071.8,26],[2072.7,26.7],[2074.4,27.1],[2075.5,27.9],[2077.1,28],[2078.8,29.2],[2079.9,30.9],[2081.8,31.7],[2084.9,31.8],[2086,32.9],[2088.2,33.3],[2089.9,33.6],[2093.2,33.9],[2094.8,34],[2095.6,34.4],[2097,34.5],[2097.6,35.3],[2098.9,35.7],[2100,35.7]];
const catchLow85 = [[2018,0],[2025,.5],[2030,.6],[2036,.8],[2040,1.4],[2044,2.2],[2046,2.5],[2047,3.5],[2050.3,3.5],[2051.5,4.7],[2053,5],[2058,5.2],[2059,6.15],[2060,7.3],[2061.5,7.9],[2064.5,8.3],[2066.7,8.35],[2067.4,13.05],[2070,13.6],[2073.3,14.2],[2075.6,16.1],[2077.8,16.4],[2078.6,18.5],[2080.6,19.5],[2086,19.9],[2087.5,20.8],[2091,21.2],[2092.8,22],[2093.9,22.9],[2096,23.2],[2098.2,23.7],[2100,23.7]];
const catchMean85 = [[1950,0],[2010,0],[2012,.1],[2021,.5],[2025.2,.7],[2026,1.9],[2029.6,2],[2031,2.2],[2036,2.3],[2038,2.5],[2039.3,3.1],[2041,3.6],[2042.5,3.8],[2044.2,4.4],[2045.5,4.85],[2046.3,5.6],[2047.2,6.6],[2047.9,7],[2049.5,7.2],[2051.3,8.5],[2053,8.8],[2054.3,9.2],[2055.1,10.5],[2057,10.6],[2058.3,11.3],[2059.1,11.7],[2061,11.9],[2062,12.6],[2063,14.1],[2065,14.5],[2065.8,16.3],[2067,16.9],[2068,18.5],[2069.4,18.9],[2070.6,19.5],[2072,19.9],[2074,20.8],[2075.5,21],[2077,22.1],[2078,22.6],[2079,23.5],[2080.5,24],[2083.5,24.05],[2085.5,24.6],[2088,25.3],[2090,25.65],[2090.7,27],[2092,27.6],[2094.5,28.1],[2095.5,28.4],[2097,29.6],[2098.2,30.3],[2100,30.45]];
const catchUp26 = [[2018,.1],[2021,.5],[2025,.5],[2025.7,1.5],[2030,1.5],[2030.7,2.5],[2033.5,2.8],[2036.8,2.85],[2041,3],[2052,3.1],[2062.8,3.15],[2065.5,3.6],[2070,3.65],[2071,4.3],[2088.8,4.45],[2090,4.9],[2100,4.9]];
const catchLow26 = [[2018,.1],[2021,.1],[2025.7,.5],[2031,.45],[2035,.5],[2036.8,.6],[2041,.6],[2043.4,.85],[2050,.9],[2059.4,.95],[2063,1.1],[2070,1.1],[2100,1.2]];
const catchMean26 = [[1950,0],[2010,0],[2012,.15],[2016,.25],[2020,.3],[2021,.5],[2025,.5],[2026,.85],[2029.6,.85],[2031,1.2],[2033,1.3],[2034,1.4],[2040,1.5],[2042,1.7],[2047.5,1.8],[2050,2.2],[2062,2.3],[2064,2.6],[2065.5,2.7],[2070,2.7],[2070.8,3.1],[2073,3.15],[2088.8,3.25],[2090,3.35],[2100,3.35]];

// ---------- panel D ----------
const speciesTicks = d3.range(0, 71, 10);
const speciesUp85 = [[2012,0],[2013,2],[2015.9,4.9],[2017.5,5.4],[2020.7,6],[2022.3,8.2],[2025,8.7],[2026,9.2],[2029.8,9.3],[2031,10.5],[2033,11.3],[2034,13.4],[2037.2,14.1],[2038.3,16.7],[2039.4,17.1],[2043,17.9],[2044.2,19.2],[2045.8,20.3],[2046.9,24.6],[2050,25],[2051.1,41],[2052.2,42.3],[2053.8,42.3],[2054.9,43.1],[2056,45.6],[2058.6,46],[2060,46.7],[2062.9,46.7],[2065,47.2],[2065.6,48.5],[2067.2,48.7],[2068.2,50.8],[2069.3,51],[2070.4,52.6],[2071.1,52.8],[2072,53.8],[2072.8,57.9],[2074,58.2],[2075.2,59.4],[2076.8,60.3],[2080,61.4],[2084.3,61.6],[2086.4,62.1],[2092.3,62.8],[2097,63],[2100,63.5]];
const speciesLow85 = [[2012,0],[2012.8,0],[2013.5,1],[2016.4,2.05],[2020,2.15],[2022.3,2.8],[2028,2.8],[2029.8,3.3],[2036,3.5],[2040,4.1],[2041,5.6],[2042,9.2],[2043.7,12.6],[2045.8,13.4],[2046.9,14.6],[2050,14.8],[2050.9,16.4],[2053.3,16.9],[2058,17.3],[2060.2,21],[2062.3,21.5],[2064,23.1],[2065.2,23.1],[2067.2,26.6],[2068.2,26.7],[2068.8,27.6],[2070.9,27.6],[2071.7,30],[2073,30.3],[2074,45.9],[2076.8,46.3],[2077.8,47.7],[2080,47.8],[2082,48.5],[2085.3,48.6],[2089,50],[2092.3,50.3],[2096,51],[2097,53.7],[2100,53.8]];
const speciesMean85 = [[1950,0],[2010.5,0],[2012.7,2.55],[2015.9,3.3],[2018.5,3.7],[2020,3.85],[2022.3,5.1],[2025,5.3],[2026.8,7],[2028.7,7.2],[2030.8,7.9],[2033,8.2],[2034,9.3],[2036.7,9.6],[2038.8,11.8],[2040.4,13.1],[2042,14.4],[2043,14.9],[2044.2,16.2],[2045.8,16.9],[2046.9,18.7],[2048.5,18.8],[2050,19],[2051,24.6],[2052.2,25.9],[2053.8,26.2],[2054.9,26.4],[2056.2,27.6],[2058,27.8],[2060,29.5],[2062.3,30.4],[2064,32],[2065.9,33.2],[2067.2,39.6],[2069.3,40.6],[2070.4,41.6],[2071.1,41.8],[2072.8,44.1],[2074,50.3],[2075.2,51.3],[2076.8,51.8],[2077.8,53.3],[2080.5,54.1],[2083.9,54.3],[2086.9,55.5],[2090.6,56.2],[2092.3,57.1],[2095.5,57.5],[2096.5,58],[2098,59.4],[2100,59.6]];
const speciesUp26 = [[2010,0],[2011.9,3.3],[2014.3,3.85],[2015.9,5],[2019.6,5.1],[2022.3,6.7],[2025,7.7],[2026.6,8.2],[2034,8.3],[2035.6,9.5],[2041.5,9.5],[2043,10],[2047.9,10.5],[2050,13.85],[2062.9,14],[2064,15.6],[2066,16.7],[2075.2,16.8],[2079,17.2],[2096.5,17.3],[2100,17.6]];
const speciesLow26 = [[2010,0],[2011,.5],[2015,.5],[2016,2],[2020,2.3],[2022.3,2.8],[2028,3.2],[2036,3.3],[2038.3,3.85],[2040,4],[2050.6,4.25],[2059,4.35],[2061.3,5.2],[2062.9,5.6],[2100,5.8]];
const speciesMean26 = [[1950,0],[2010,0],[2011.9,1.95],[2014.8,2.15],[2015.9,3.2],[2019,3.3],[2020.7,3.85],[2022.8,4.6],[2025,5.1],[2026,5.9],[2030.8,6],[2032,6.4],[2033,6.4],[2034,7.2],[2036,7.3],[2038.3,7.5],[2040,7.6],[2041.5,8.05],[2046.3,8.1],[2047.9,8.35],[2049.7,9.5],[2059,9.6],[2061,10.35],[2062.9,10.7],[2064.3,11.2],[2066,11.4],[2070.4,11.5],[2072,12],[2078.4,12.1],[2079.4,12.3],[2084.8,12.3],[2086.4,12.5],[2089,12.7],[2090.6,12.9],[2096.5,12.9],[2100,13]];

const scenarioNames = ["RCP 8.5", "RCP 2.6"];
const bandColors = ["#f9aa95", "#6bafcd"];
const legendSwatches = ["#f9aa95", "#a5cbe0"];
const meanColors = ["#c8202a", "#1f3f78"];

// ---------- drawing ----------
const svg = d3.select("#chart").append("svg").attr("width", 3496).attr("height", 2032);
svg.append("rect").attr("width", 3496).attr("height", 2032).attr("fill", "#fff");

const textDark = "#2e2e2e", textGrey = "#4f4f4f", axisGrey = "#555";

function panelLetter(t, x, y) {
  svg.append("text").attr("x", x).attr("y", y).attr("font-size", 48).attr("font-weight", 700).attr("fill", "#000").text(t);
}
panelLetter("A", 8, 47); panelLetter("B", 1785, 47); panelLetter("C", 11, 1047); panelLetter("D", 1785, 1047);

// Eckert III: straight, evenly spaced parallels and a pole line half the equator
function eckert3(l, p) {
  const k = 2 / Math.sqrt(Math.PI * (4 + Math.PI));
  return [k * l * (1 + Math.sqrt(Math.max(0, 1 - 4 * p * p / (Math.PI * Math.PI)))), 2 * k * p];
}
const projection = d3.geoProjection(eckert3).scale(297.4).translate([944, 435.5]).precision(0.2);
const geoPath = d3.geoPath(projection);
const ringPath = d3.line().x(d => projection(d)[0]).y(d => projection(d)[1]);

const defs = svg.append("defs");
defs.append("clipPath").attr("id", "globe").append("path").attr("d", geoPath({ type: "Sphere" }));

const map = svg.append("g").attr("clip-path", "url(#globe)");
map.append("path").attr("d", geoPath(d3.geoGraticule().step([45, 30]).extent([[-180, -90], [180.01, 90.01]])()))
  .attr("fill", "none").attr("stroke", "#cfcfcf").attr("stroke-width", 1).attr("stroke-dasharray", "2 2");

const zoneLayers = [zoneLight, zoneMid, zoneOrange, zoneRed, zoneDark, coreRing, coreInner];
const zoneFills = [barColors[4], barColors[3], barColors[2], barColors[1], barColors[0], barColors[1], barColors[2]];
zoneLayers.forEach((shapes, i) => {
  map.append("g").selectAll("path").data(shapes).enter().append("path")
    .attr("d", d => ringPath(d) + "Z").attr("fill", zoneFills[i]);
});

map.append("g").selectAll("path").data(landShapes).enter().append("path")
  .attr("d", d => ringPath(d) + "Z").attr("fill", "#a6a9ab").attr("stroke", "#6a6e70").attr("stroke-width", 0.8);
map.append("path").attr("d", ringPath(aleutians)).attr("fill", "none").attr("stroke", "#6a6e70").attr("stroke-width", 1.4).attr("stroke-dasharray", "6 5");
map.append("g").selectAll("path").data(waterLines).enter().append("path")
  .attr("d", d => ringPath(d)).attr("fill", "none").attr("stroke", "#2c2e30").attr("stroke-width", 1);
map.append("g").selectAll("line").data(lakeDashes).enter().append("line")
  .attr("x1", (d, i) => projection(d)[0] - 1 - i % 3).attr("x2", (d, i) => projection(d)[0] + 1 + i % 2)
  .attr("y1", (d, i) => projection(d)[1] + i % 2).attr("y2", (d, i) => projection(d)[1] - i % 3)
  .attr("stroke", "#1e2022").attr("stroke-width", 1.2);
// the central meridian shows on the Antarctic ice
map.append("path").attr("d", geoPath({ type: "LineString", coordinates: [[0, -69], [0, -90]] }))
  .attr("fill", "none").attr("stroke", "#7d8082").attr("stroke-width", 1);

svg.append("path").attr("d", geoPath({ type: "Sphere" })).attr("fill", "none").attr("stroke", "#1a1a1a").attr("stroke-width", 3.6);

// colour bar
const barX = d3.scaleLinear().domain([2040, 2090]).range([48, 1840]);
svg.append("g").selectAll("rect").data(barColors).enter().append("rect")
  .attr("x", (d, i) => barX(barYears[i])).attr("y", 900)
  .attr("width", (d, i) => barX(barYears[i + 1]) - barX(barYears[i])).attr("height", 32).attr("fill", d => d);
svg.append("rect").attr("x", barX(2040)).attr("y", 900).attr("width", barX(2090) - barX(2040)).attr("height", 32)
  .attr("fill", "none").attr("stroke", "#333").attr("stroke-width", 1.6);
svg.append("g").selectAll("line").data(barYears.slice(1, 5)).enter().append("line")
  .attr("x1", d => barX(d)).attr("x2", d => barX(d)).attr("y1", 916).attr("y2", 932).attr("stroke", "#333").attr("stroke-width", 1.5);
svg.append("g").selectAll("text").data(barYears).enter().append("text")
  .attr("x", d => barX(d) + (d === 2040 ? 5 : d === 2090 ? -27 : -1)).attr("y", 980).attr("text-anchor", "middle")
  .attr("font-size", 47).attr("fill", textGrey).text(d => d);
svg.append("text").attr("x", 997).attr("y", 886).attr("text-anchor", "middle").attr("font-size", 42)
  .attr("fill", textDark).text("Time of apparition (year)");

function drawAxes(o) {
  const x = d3.scaleLinear().domain([1950, 2100]).range(o.xRange);
  const y = d3.scaleLinear().domain(o.yDomain).range(o.yRange);
  const gy = svg.append("g").attr("transform", `translate(${o.xRange[0]},0)`)
    .call(d3.axisLeft(y).tickValues(o.yTicks).tickSize(-18).tickSizeOuter(0).tickPadding(8));
  gy.select(".domain").attr("stroke", axisGrey).attr("stroke-width", 4.5);
  gy.selectAll(".tick line").attr("stroke", axisGrey).attr("stroke-width", 1.5);
  gy.selectAll(".tick text").attr("font-size", 47).attr("fill", textGrey)
    .attr("font-family", '"Liberation Sans", Arial, sans-serif').attr("dy", `${o.tickDy}px`);
  const gx = svg.append("g").attr("transform", `translate(0,${o.yRange[0]})`)
    .call(d3.axisBottom(x).tickValues(yearTicks).tickFormat(d3.format("d")).tickSize(-16).tickSizeOuter(0).tickPadding(0));
  gx.select(".domain").attr("stroke", "#666").attr("stroke-width", 1.5);
  gx.selectAll(".tick line").attr("stroke", "#666").attr("stroke-width", 1.5);
  gx.selectAll(".tick text").attr("font-size", 47).attr("fill", textGrey)
    .attr("font-family", '"Liberation Sans", Arial, sans-serif').attr("dy", 0).attr("dx", 3).attr("y", o.xLabelDrop);
  svg.append("text").attr("transform", `translate(${o.titleX},${o.titleY}) rotate(-90)`)
    .attr("text-anchor", "middle").attr("font-size", o.titleSize).attr("fill", "#5a5a5a").text(o.title);
  return { x, y };
}

// panel B
const b = drawAxes({
  xRange: [1951, 3445], yDomain: [0, 20], yRange: [928.5, 57.5], yTicks: coverTicks, tickDy: 15,
  xLabelDrop: 49, titleX: 1876, titleY: 432, titleSize: 50, title: "global ocean cover (%)"
});
const coverLine = d3.line().x(d => b.x(d[0])).y(d => b.y(d[1]));
svg.append("g").selectAll("path").data(coverSeries).enter().append("path")
  .attr("d", coverLine).attr("fill", "none").attr("stroke", (d, i) => coverColors[i]).attr("stroke-width", 6.5)
  .attr("stroke-linejoin", "round");
const coverLegendY = [71.5, 112, 158, 234, 274, 315];
coverNames.forEach((name, i) => {
  svg.append("line").attr("x1", 2029).attr("x2", 2073).attr("y1", coverLegendY[i]).attr("y2", coverLegendY[i])
    .attr("stroke", coverColors[i]).attr("stroke-width", 6.5);
  svg.append("text").attr("x", 2078).attr("y", coverLegendY[i] + 14).attr("font-size", 41.5).attr("fill", textDark).text(name);
});

// panels C and D share the same band layout
function drawBands(axes, up85, low85, mean85, up26, low26, mean26) {
  const line = d3.line().x(d => axes.x(d[0])).y(d => axes.y(d[1]));
  const band = (up, low) => line(up.concat(low.slice().reverse())) + "Z";
  svg.append("path").attr("d", band(up85, low85)).attr("fill", bandColors[0]);
  svg.append("path").attr("d", line(mean85)).attr("fill", "none").attr("stroke", meanColors[0]).attr("stroke-width", 2);
  svg.append("path").attr("d", band(up26, low26)).attr("fill", bandColors[1]).attr("fill-opacity", 0.55);
  svg.append("path").attr("d", line(mean26)).attr("fill", "none").attr("stroke", meanColors[1]).attr("stroke-width", 2);
}
function drawScenarioLegend(x0, x1, textX, ys) {
  scenarioNames.forEach((name, i) => {
    svg.append("line").attr("x1", x0).attr("x2", x1).attr("y1", ys[i]).attr("y2", ys[i])
      .attr("stroke", legendSwatches[i]).attr("stroke-width", 7);
    svg.append("text").attr("x", textX).attr("y", ys[i] + 13).attr("font-size", 41.5).attr("fill", textDark).text(name);
  });
}

const c = drawAxes({
  xRange: [202, 1737], yDomain: [0, 40], yRange: [1975, 1077], yTicks: catchTicks, tickDy: 9,
  xLabelDrop: 46, titleX: 104, titleY: 1527, titleSize: 50, title: "Proportion of  catch (2001-2010) (%)"
});
drawBands(c, catchUp85, catchLow85, catchMean85, catchUp26, catchLow26, catchMean26);
drawScenarioLegend(346, 392, 426, [1099, 1155]);

const e = drawAxes({
  xRange: [1953, 3490], yDomain: [0, 70], yRange: [1975, 1076], yTicks: speciesTicks, tickDy: 9,
  xLabelDrop: 46, titleX: 1871, titleY: 1541, titleSize: 50, title: "Proportion of exploited species diversity (%)"
});
drawBands(e, speciesUp85, speciesLow85, speciesMean85, speciesUp26, speciesLow26, speciesMean26);
drawScenarioLegend(1999, 2046, 2078, [1100, 1156]);
</script>
</body>
</html>
